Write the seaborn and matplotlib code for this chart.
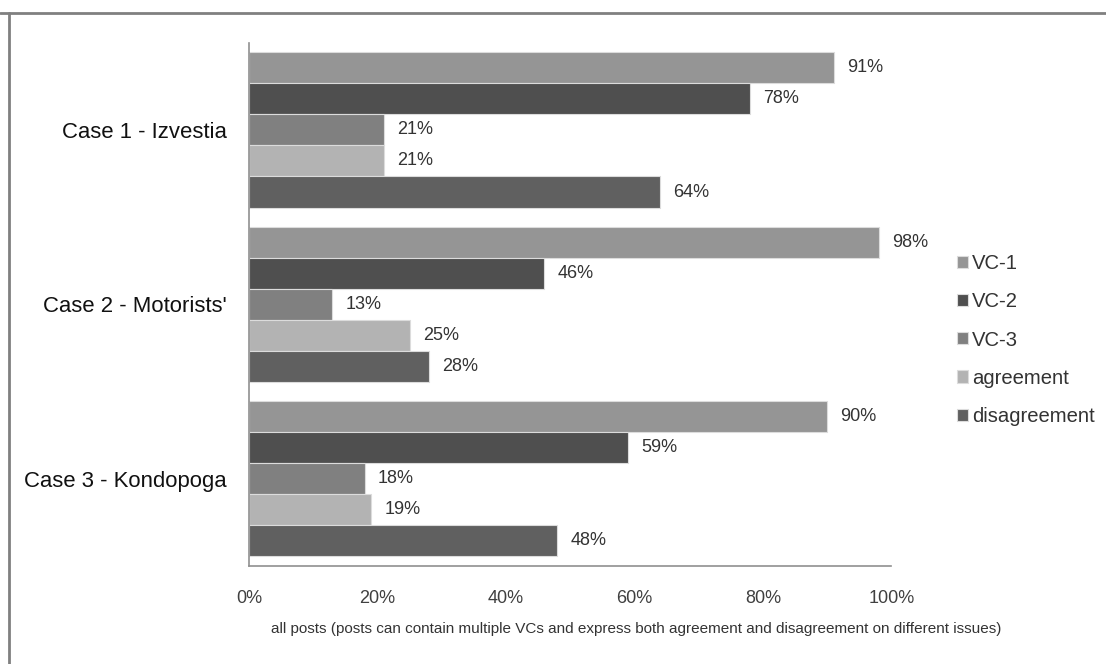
import matplotlib
matplotlib.use("Agg")
import pandas as pd
import matplotlib.pyplot as plt
from matplotlib.lines import Line2D
import seaborn as sns

cases = ["Case 1 - Izvestia", "Case 2 - Motorists'", "Case 3 - Kondopoga"]
series = ["VC-1", "VC-2", "VC-3", "agreement", "disagreement"]
vc1 = [91, 98, 90]
vc2 = [78, 46, 59]
vc3 = [21, 13, 18]
agreement = [21, 25, 19]
disagreement = [64, 28, 48]
x_ticks = [0, 20, 40, 60, 80, 100]
colors = ["#959595", "#4f4f4f", "#808080", "#b3b3b3", "#606060"]
xlabel = "all posts (posts can contain multiple VCs and express both agreement and disagreement on different issues)"

rows = []
for name, vals in zip(series, [vc1, vc2, vc3, agreement, disagreement]):
    for case, v in zip(cases, vals):
        rows.append({"case": case, "series": name, "value": v})
df = pd.DataFrame(rows)

sns.set_style("white")
plt.rcParams['font.family'] = ['Liberation Sans', 'DejaVu Sans']

fig = plt.figure(figsize=(11.06, 6.64), dpi=100)
ax = fig.add_axes([0.2251, 0.1476, 0.806 - 0.2251, 0.9357 - 0.1476])

sns.barplot(data=df, x="value", y="case", hue="series", hue_order=series,
            order=cases, palette=colors, saturation=1, width=0.89,
            orient="h", edgecolor="#dcdcdc", linewidth=0.8, ax=ax)

for c in ax.containers:
    ax.bar_label(c, fmt="%g%%", padding=9.5, fontsize=13, color="#333333")

ax.set_xlim(0, 100)
ax.set_ylim(2.5, -0.5)
ax.set_xticks(x_ticks)
ax.set_xticklabels([f"{t}%" for t in x_ticks], fontsize=13, color="#404040")
ax.set_yticks(range(len(cases)))
ax.set_yticklabels(cases, fontsize=15.9, color="#111111")
ax.set_yticks([-0.5, 0.5, 1.5, 2.5], minor=True)
ax.tick_params(axis="y", which="major", length=0, pad=16)
ax.tick_params(axis="y", which="minor", length=6, width=1.2, color="#909090", direction="out")
ax.tick_params(axis="x", length=6, width=1.2, color="#909090", direction="out", pad=11)
ax.set_ylabel("")
ax.set_xlabel(xlabel, fontsize=11, color="#333333")
ax.xaxis.set_label_coords((636 - 249) / 642.5, -0.1066)

for s in ["top", "right"]:
    ax.spines[s].set_visible(False)
for s in ["left", "bottom"]:
    ax.spines[s].set_color("#909090")
    ax.spines[s].set_linewidth(1.2)

ax.legend(loc="center left", bbox_to_anchor=(947 / 1106, 1 - 340 / 664),
          bbox_transform=fig.transFigure, frameon=False, fontsize=14.6,
          handlelength=0.55, handleheight=0.55, handletextpad=0.2,
          labelspacing=0.95, borderpad=0, labelcolor="#333333")

# outer frame lines
fig.add_artist(Line2D([0, 1], [1 - 13 / 664, 1 - 13 / 664], transform=fig.transFigure,
                      color="#808080", linewidth=2))
fig.add_artist(Line2D([9 / 1106, 9 / 1106], [0, 1 - 13 / 664], transform=fig.transFigure,
                      color="#808080", linewidth=2))

fig.savefig("out.png", dpi=100)
